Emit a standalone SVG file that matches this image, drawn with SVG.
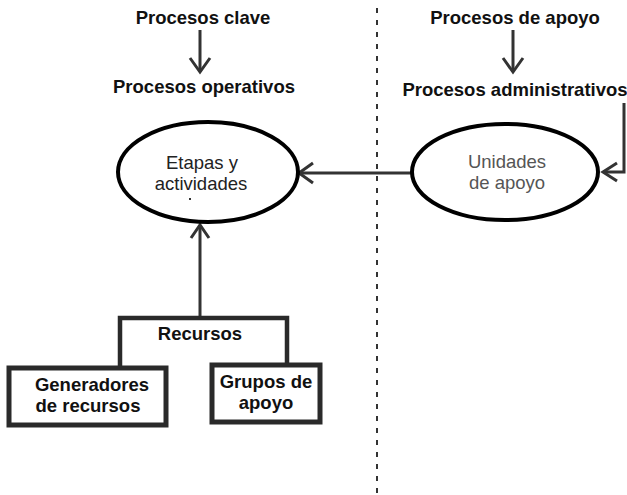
<svg xmlns="http://www.w3.org/2000/svg" width="627" height="495" viewBox="0 0 627 495">
<style>
.b{font-family:"Liberation Sans",Arial,sans-serif;font-weight:bold;font-size:18.5px;fill:#111;text-anchor:middle}
.r{font-family:"Liberation Sans",Arial,sans-serif;font-size:18.5px;text-anchor:middle}
.ln{stroke:#333;stroke-width:3;fill:none}
.br{stroke:#2a2a2a;stroke-width:4.5;fill:none}
.ah{stroke:#333;stroke-width:3;fill:none;stroke-linecap:butt}
.ell{stroke:#000;stroke-width:4;fill:#fff}
.box{stroke:#2a2a2a;stroke-width:5;fill:#fff}
</style>
<rect width="627" height="495" fill="#fff"/>
<g id="divider">
<line x1="377" y1="8" x2="377" y2="494" stroke="#333" stroke-width="2" stroke-dasharray="5 7"/>
</g>
<g id="connectors">
<line class="ln" x1="200" y1="30" x2="200" y2="72"/>
<polyline class="ah" points="190,58 200,72 210,58"/>
<line class="ln" x1="513" y1="30" x2="513" y2="72"/>
<polyline class="ah" points="503,58 513,72 523,58"/>
<polyline class="ln" points="624,103 624,172 603,172"/>
<polyline class="ah" points="617,163 603,172 617,181"/>
<line class="ln" x1="411" y1="173" x2="299" y2="173"/>
<polyline class="ah" points="313,163 299,173 313,183"/>
<line class="ln" x1="200" y1="316" x2="200" y2="225"/>
<polyline class="ah" points="191,238 200,225 209,238"/>
<polyline class="br" points="120,367 120,318 287,318 287,364"/>
</g>
<g id="procesos-clave"><text class="b" x="203" y="24">Procesos clave</text></g>
<g id="procesos-operativos"><text class="b" x="204" y="93">Procesos operativos</text></g>
<g id="procesos-apoyo"><text class="b" x="515" y="24">Procesos de apoyo</text></g>
<g id="procesos-administrativos"><text class="b" x="515" y="96">Procesos administrativos</text></g>
<g id="etapas">
<ellipse class="ell" cx="208" cy="172" rx="90" ry="50"/>
<text class="r" x="202" y="169" fill="#222">Etapas y</text>
<text class="r" x="201" y="190" fill="#222">actividades</text>
<rect x="189" y="198" width="2" height="2" fill="#333"/>
</g>
<g id="unidades">
<ellipse class="ell" cx="505" cy="172" rx="93" ry="48"/>
<text class="r" x="507" y="168" fill="#555">Unidades</text>
<text class="r" x="507" y="189" fill="#555">de apoyo</text>
</g>
<g id="recursos"><text class="b" x="200" y="340">Recursos</text></g>
<g id="generadores">
<rect class="box" x="9" y="368" width="157" height="57"/>
<text class="b" x="92" y="391">Generadores</text>
<text class="b" x="88" y="412">de recursos</text>
</g>
<g id="grupos">
<rect class="box" x="212" y="365" width="108" height="57"/>
<text class="b" x="266" y="388">Grupos de</text>
<text class="b" x="266" y="409">apoyo</text>
</g>
</svg>
